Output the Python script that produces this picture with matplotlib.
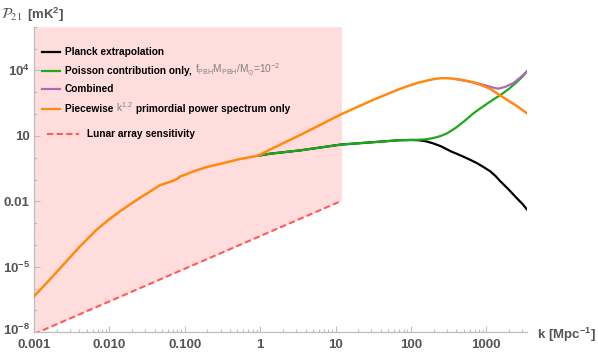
import numpy as np
import matplotlib
matplotlib.use("Agg")
import matplotlib.pyplot as plt
import matplotlib.transforms as mtransforms
from matplotlib.lines import Line2D

plt.rcParams['font.family'] = ['Liberation Sans', 'DejaVu Sans']
plt.rcParams['mathtext.fontset'] = 'custom'
plt.rcParams['mathtext.rm'] = 'Liberation Sans'
plt.rcParams['mathtext.bf'] = 'Liberation Sans:bold'
plt.rcParams['mathtext.it'] = 'Liberation Sans:italic'

# curves, as (log10 k, log10 P21)
orange_logk = [-3.0, -2.8, -2.61, -2.4, -2.17, -2.0, -1.86, -1.73, -1.6, -1.46, -1.33, -1.25,
               -1.17, -1.1, -1.06, -1.0, -0.887, -0.71, -0.44, -0.268, -0.025,
               0.13, 0.544, 1.07, 1.5, 1.854, 2.0, 2.1, 2.2, 2.3, 2.4, 2.5, 2.6, 2.7,
               2.83, 2.95, 3.05, 3.15, 3.27, 3.4, 3.54]
orange_logp = [-6.35, -5.62, -4.9, -4.1, -3.3, -2.82, -2.46, -2.15, -1.85, -1.55, -1.26, -1.17,
               -1.08, -0.97, -0.86, -0.79, -0.63, -0.43, -0.21, -0.06, 0.09,
               0.37, 1.06, 1.98, 2.65, 3.15, 3.33, 3.44, 3.52, 3.6, 3.64, 3.64, 3.6, 3.55,
               3.45, 3.3, 3.16, 2.93, 2.66, 2.38, 2.03]

green_logk = [-0.025, 0.13, 0.544, 1.07, 1.5, 1.85, 2.09, 2.2, 2.3, 2.4, 2.47, 2.53, 2.6, 2.7,
              2.84, 3.0, 3.1, 3.2, 3.3, 3.4, 3.47, 3.54]
green_logp = [0.09, 0.18, 0.34, 0.6, 0.71, 0.8, 0.82, 0.84, 0.9, 1.0, 1.1, 1.22, 1.38, 1.65,
              2.06, 2.45, 2.68, 2.9, 3.15, 3.45, 3.68, 3.95]

black_logk = [-0.025, 0.13, 0.544, 1.07, 1.5, 1.85, 2.0, 2.1, 2.2, 2.3, 2.4, 2.53, 2.6, 2.7,
              2.8, 2.87, 2.95, 3.05, 3.12, 3.18, 3.3, 3.4, 3.48, 3.56]
black_logp = [0.09, 0.18, 0.34, 0.6, 0.71, 0.8, 0.81, 0.8, 0.75, 0.65, 0.52, 0.29, 0.19, 0.04,
              -0.12, -0.24, -0.4, -0.62, -0.83, -1.06, -1.47, -1.84, -2.12, -2.46]

purple_logk = [2.6, 2.75, 2.87, 3.0, 3.1, 3.16, 3.25, 3.36, 3.46, 3.56]
purple_logp = [3.6, 3.5, 3.42, 3.3, 3.2, 3.16, 3.24, 3.42, 3.7, 4.03]

lunar_k = [0.001, 12.0]
lunar_p = [8.3e-9, 1.05e-2]

xtick_vals = [0.001, 0.01, 0.1, 1, 10, 100, 1000]
xtick_labels = ['0.001', '0.010', '0.100', '1', '10', '100', '1000']
ytick_vals = [1e-8, 1e-5, 1e-2, 10, 1e4]
ytick_labels = [r'$\mathbf{10^{-8}}$', r'$\mathbf{10^{-5}}$', '0.01', '10', r'$\mathbf{10^{4}}$']

c_black = '#000000'
c_green = '#1aaa1a'
c_purple = '#b067b8'
c_orange = '#ff8a0e'
c_red = '#ff5a5a'
c_pink = '#ffdddd'
c_axis = '#bdbdbd'
c_text = '#555555'

fig = plt.figure(figsize=(5.98, 3.54), dpi=100)
ax = fig.add_axes([34 / 598, 1 - 332.3 / 354, 493 / 598, 305.6 / 354])
ax.set_xscale('log')
ax.set_yscale('log')
ax.set_xlim(1e-3, 10 ** 3.54)
ax.set_ylim(1e-8, 1e6)

def tolin(v):
    return 10 ** np.array(v)

# sensitivity region: above the lunar line
ax.fill_between(lunar_k, lunar_p, [1e6, 1e6], color=c_pink, lw=0, zorder=0)
ax.plot(lunar_k, lunar_p, color=c_red, ls=(0, (3, 1.6)), lw=1.5, zorder=2)

ax.plot(tolin(black_logk), tolin(black_logp), color=c_black, lw=1.6, zorder=3)
ax.plot(tolin(green_logk), tolin(green_logp), color=c_green, lw=1.6, zorder=4)
ax.plot(tolin(purple_logk), tolin(purple_logp), color=c_purple, lw=1.6, zorder=5)
ax.plot(tolin(orange_logk), tolin(orange_logp), color=c_orange, lw=1.8, zorder=6)

for s in ['top', 'right']:
    ax.spines[s].set_visible(False)
for s in ['left', 'bottom']:
    ax.spines[s].set_color(c_axis)
    ax.spines[s].set_linewidth(0.9)

ax.set_xticks(xtick_vals)
ax.set_xticklabels(xtick_labels)
ax.set_xticks([m * 10.0 ** e for e in range(-3, 4) for m in range(2, 10) if m * 10.0 ** e < 10 ** 3.54], minor=True)
ax.set_yticks(ytick_vals)
ax.set_yticklabels(ytick_labels)
ax.set_yticks([10.0 ** e for e in range(-8, 7) if 10.0 ** e not in ytick_vals], minor=True)
ax.set_yticklabels([], minor=True)
ax.set_xticklabels([], minor=True)
ax.tick_params(which='both', direction='in', color=c_axis, width=0.8, labelcolor=c_text, labelsize=9.5)
ax.tick_params(which='major', length=4)
ax.tick_params(axis='x', which='major', pad=5)
ax.tick_params(axis='y', which='major', pad=3)
ax.tick_params(which='minor', length=2.5)
for lab in ax.get_xticklabels() + ax.get_yticklabels():
    lab.set_fontweight('bold')
# lift the bottom y label a little, like the original
lowest = ax.get_yticklabels()[0]
lowest.set_transform(lowest.get_transform() + mtransforms.ScaledTranslation(0, 3 / 100, fig.dpi_scale_trans))

fig.text(1 / 598, 1 - 19 / 354, r'$\mathcal{P}_{21}$', math_fontfamily='stix', fontsize=10.5, color=c_text, va='baseline')
fig.text(27 / 598, 1 - 19 / 354, r'[mK$^{\mathbf{2}}$]', fontsize=9.5, fontweight='bold', color=c_text, va='baseline')
fig.text(537 / 598, 1 - 335 / 354, r'k [Mpc$^{\mathbf{-1}}$]', fontsize=9.5, fontweight='bold', color=c_text, va='center')

# legend, drawn by hand
renderer = fig.canvas.get_renderer()

def pieces(x_px, y_px, parts):
    x = x_px
    for txt, col, bold in parts:
        t = fig.text(x / 598, 1 - y_px / 354, txt, color=col, fontsize=7.3,
                     fontweight='bold' if bold else 'normal', va='baseline')
        bb = t.get_window_extent(renderer=renderer)
        x = x + bb.width

rows = [
    (55, c_black, [('Planck extrapolation', 'black', True)]),
    (74, c_green, [('Poisson contribution only, ', 'black', True),
                   (r'$\mathregular{f_{PBH}M_{PBH}/M_{\odot}}$=10$^{-2}$', '#808080', False)]),
    (92, c_purple, [('Combined', 'black', True)]),
    (112, c_orange, [('Piecewise ', 'black', True), (r'k$^{1.2}$', '#808080', False),
                     (' primordial power spectrum only', 'black', True)]),
]
for y, col, parts in rows:
    fig.add_artist(Line2D([42 / 598, 60 / 598], [1 - (y - 3) / 354] * 2, color=col, lw=1.6))
    pieces(65, y, parts)

fig.add_artist(Line2D([47 / 598, 79 / 598], [1 - 134 / 354] * 2, color=c_red, lw=1.5, ls=(0, (3, 1.6))))
pieces(87, 137, [('Lunar array sensitivity', 'black', True)])

fig.savefig('out.png', dpi=100)
